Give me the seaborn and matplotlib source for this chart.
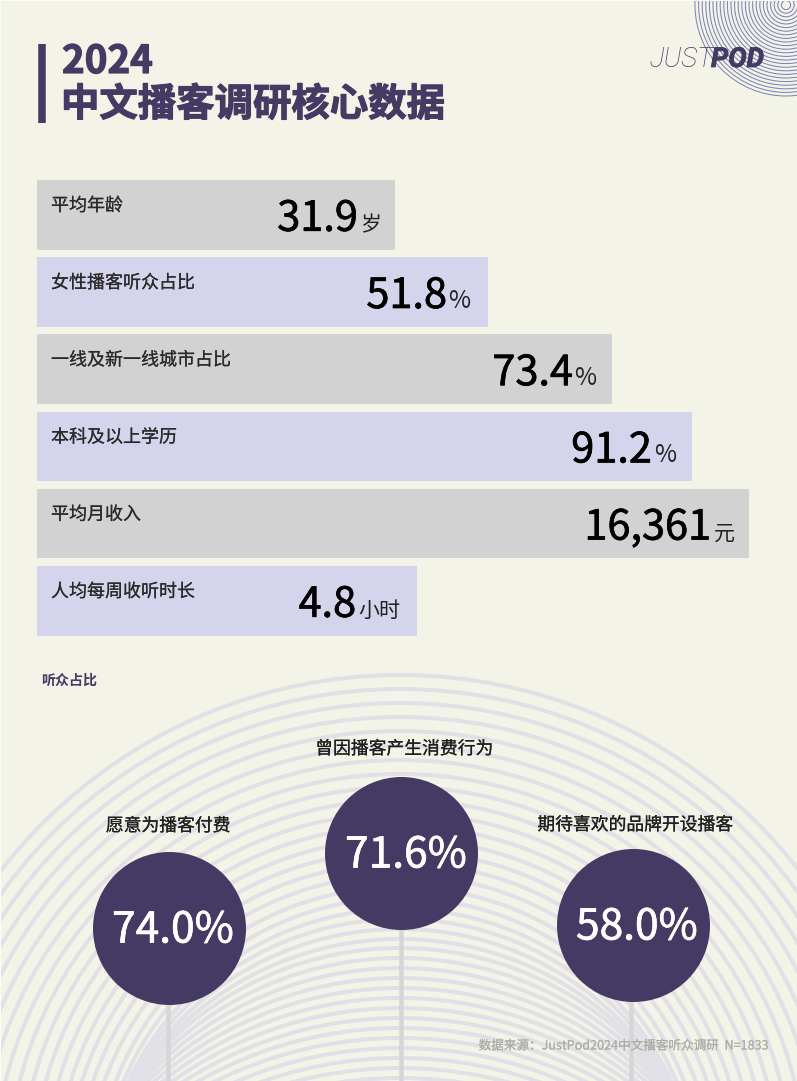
import matplotlib
matplotlib.use("Agg")
import matplotlib.pyplot as plt
import matplotlib.patheffects as pe
from matplotlib.patches import Circle
import numpy as np
import pandas as pd
import seaborn as sns

# Values
metric_labels = ["平均年龄", "女性播客听众占比", "一线及新一线城市占比", "本科及以上学历", "平均月收入", "人均每周收听时长"]
metric_values = ["31.9", "51.8", "73.4", "91.2", "16,361", "4.8"]
metric_units = ["岁", "%", "%", "%", "元", "小时"]
bar_lengths = [358, 451, 575, 655, 712, 380]

share_labels = ["愿意为播客付费", "曾因播客产生消费行为", "期待喜欢的品牌开设播客"]
share_values = [74.0, 71.6, 58.0]

# Layout, in pixels
value_inset = [37, 41, 39, 40, 38, 61]
unit_inset = [14, 18, 16, 16, 14, 17]
head_x = [169, 401, 633]
head_y = [927.5, 852.5, 924.5]
stem_x = [168, 401, 631]
label_x = [168, 404, 635]
label_y = [826, 749, 825]
pct_x = [173, 406, 637]

# Background arcs: top edge and radius of each ring
ring_tops = [675, 689, 703, 717, 731, 746, 760, 774, 787, 800, 813, 826, 839, 851, 863, 875,
             887, 898, 909, 919, 929, 939, 948, 958, 968, 978, 988, 998, 1008, 1018, 1028,
             1038, 1048, 1058, 1068, 1078]
ring_radii = [505, 491, 477, 463, 449, 435, 421, 407, 393, 380, 368, 356, 345, 335, 325, 315,
              305, 300, 300, 305, 310, 320, 330, 340, 350, 360, 370, 380, 390, 400, 410,
              416, 416, 416, 416, 416]

PAPER = "#f3f3e8"
INK = "#443a63"
CJK = ["Noto Sans CJK SC", "DejaVu Sans"]

sns.set_theme(style="white")
plt.rcParams["font.family"] = CJK

W, H = 797, 1081


def heavier(width, color):
    # the CJK font only has a few weights, thicken with a thin outline
    return [pe.withStroke(linewidth=width, foreground=color)]


fig = plt.figure(figsize=(W / 72, H / 72), dpi=72, facecolor="#fbfbf7")

# Full page axes in pixel coordinates, 1pt == 1px at dpi 72
page = fig.add_axes([1 / W, 0, (W - 1) / W, (H - 1) / H])
page.set_xlim(1, W)
page.set_ylim(H, 1)
page.axis("off")
page.add_patch(plt.Rectangle((0, 0), W, H, color=PAPER, zorder=0))

for top, radius in zip(ring_tops, ring_radii):
    page.add_patch(Circle((400, top + radius), radius, fill=False, ec="#e0e0e6", lw=4, zorder=1))

# Logo rings top right
for radius in np.arange(91, 2, -3.6):
    page.add_patch(Circle((786, 5), radius, fill=False, ec="#7a80b8", lw=1.0, zorder=1))

# Title
page.vlines(41.5, 44, 123, color=INK, lw=7.5, zorder=3)
page.text(62, 73, "2024", fontsize=38.5, fontweight="bold", color=INK, va="baseline", zorder=4,
          path_effects=heavier(1.2, INK))
page.text(61, 116, "中文播客调研核心数据", fontsize=38.4, fontweight="bold", color=INK, va="baseline", zorder=4,
          path_effects=heavier(1.2, INK))

# Logo text
page.text(650, 67, "JUST", family="Roboto", fontsize=27.5, style="italic", fontweight="light",
          color=INK, va="baseline", zorder=4)
page.text(711, 67, "POD", family="Roboto", fontsize=27.5, style="italic", fontweight="bold",
          color=INK, va="baseline", zorder=4, path_effects=heavier(0.8, INK))

page.text(41, 681, "听众占比", fontsize=14, fontweight="bold", color=INK, va="center", zorder=4)

# Stems and round heads
page.vlines(stem_x, head_y, H, color="#d6d6d8", lw=4.5, zorder=2)
heads = pd.DataFrame({"x": head_x, "y": head_y, "share": share_values})
sns.scatterplot(data=heads, x="x", y="y", s=153 ** 2, color=INK, linewidth=0, ax=page, zorder=3, legend=False)
page.set_xlabel("")
page.set_ylabel("")

for i, value in enumerate(share_values):
    page.text(label_x[i], label_y[i], share_labels[i], fontsize=17.8, color="#1e1e1e",
              ha="center", va="center", zorder=4, path_effects=heavier(0.2, "#1e1e1e"))
    page.text(pct_x[i], head_y[i] + 3, f"{value:.1f}%", fontsize=42.5, color="white",
              ha="center", va="center", zorder=4, path_effects=heavier(0.7, "white"))

page.text(769, 1046, "数据来源：JustPod2024中文播客听众调研  N=1833", fontsize=12.6, color="#aeaea8",
          ha="right", va="center", zorder=4, path_effects=heavier(0.15, "#aeaea8"))

# Metric bars
bar_top, bar_step = 176.2, 77.2
ax = fig.add_axes([37 / W, 1 - (bar_top + 6 * bar_step) / H, (W - 37) / W, 6 * bar_step / H])
ax.patch.set_alpha(0)
metrics = pd.DataFrame({"label": metric_labels, "length": bar_lengths})
sns.barplot(data=metrics, x="length", y="label", hue="label", legend=False, width=0.9, saturation=1,
            palette=["#d2d2d2", "#d4d4ec"] * 3, linewidth=0, ax=ax)
ax.set_xlim(0, W - 37)
ax.set_ylim(5.5, -0.5)
ax.axis("off")

for i, length in enumerate(bar_lengths):
    ax.annotate(metric_labels[i], (0, i), xytext=(14, 9), textcoords="offset points",
                fontsize=18, color="#2a2a2a", va="center", path_effects=heavier(0.15, "#2a2a2a"))
    unit_size = 24 if metric_units[i] == "%" else 21
    ax.annotate(metric_units[i], (length, i), xytext=(-unit_inset[i], -16), textcoords="offset points",
                fontsize=unit_size, color="#222222", ha="right", va="baseline")
    ax.annotate(metric_values[i], (length, i), xytext=(-value_inset[i], -16), textcoords="offset points",
                fontsize=41.5, color="black", ha="right", va="baseline", path_effects=heavier(0.7, "black"))

fig.savefig("out.png", dpi=72, facecolor=fig.get_facecolor())
